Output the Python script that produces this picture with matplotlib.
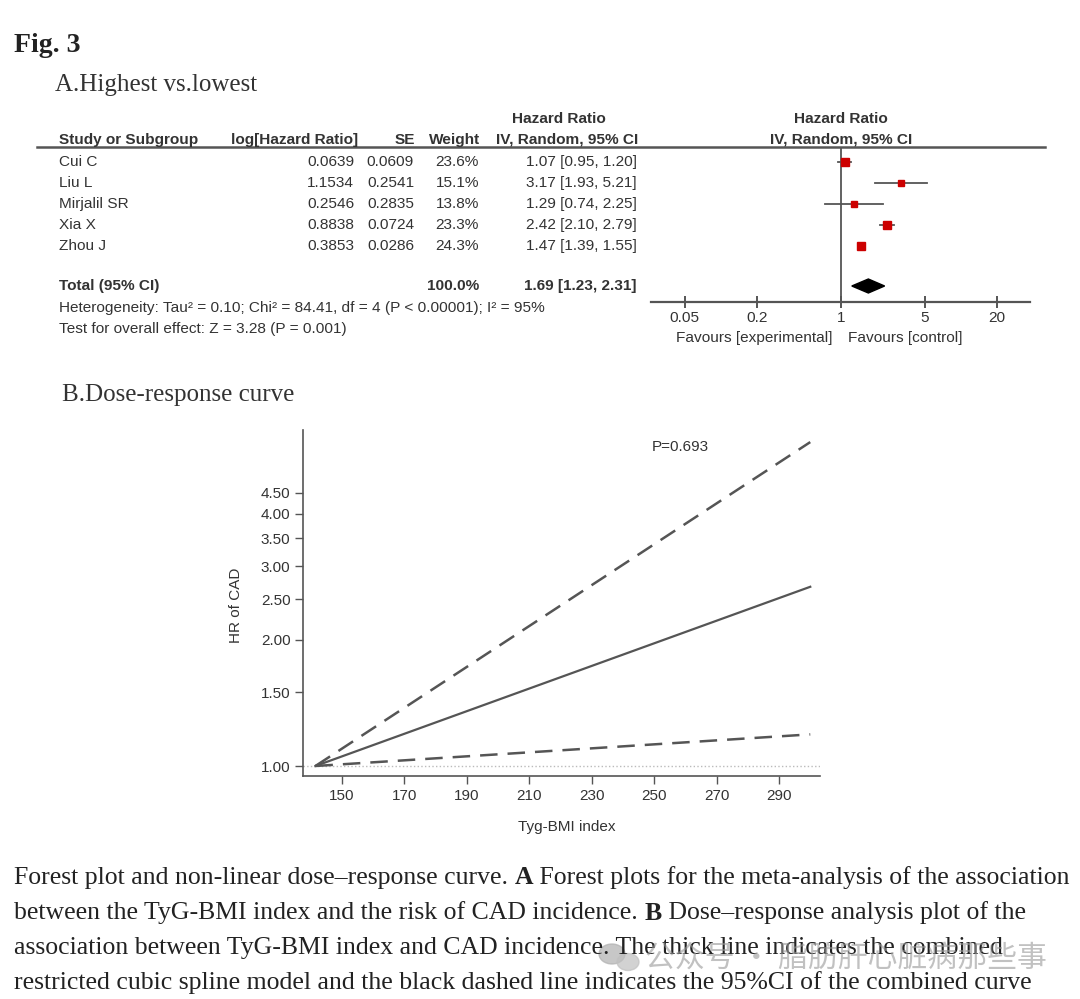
import numpy as np
import matplotlib
matplotlib.use('Agg')
import matplotlib.pyplot as plt
from matplotlib.patches import Polygon, Ellipse

# Forest plot data (panel A)
studies = ['Cui C', 'Liu L', 'Mirjalil SR', 'Xia X', 'Zhou J']
log_hr = ['0.0639', '1.1534', '0.2546', '0.8838', '0.3853']
se = ['0.0609', '0.2541', '0.2835', '0.0724', '0.0286']
weights = [23.6, 15.1, 13.8, 23.3, 24.3]
hr = [1.07, 3.17, 1.29, 2.42, 1.47]
ci_low = [0.95, 1.93, 0.74, 2.10, 1.39]
ci_high = [1.20, 5.21, 2.25, 2.79, 1.55]
total_hr, total_low, total_high = 1.69, 1.23, 2.31
total_weight = '100.0%'
forest_ticks = [0.05, 0.2, 1, 5, 20]
forest_ticklabels = ['0.05', '0.2', '1', '5', '20']

# Dose-response data (panel B)
tyg_bmi = [141.5, 300]
hr_curve = [1.0, 2.68]
hr_upper = [1.0, 5.94]
hr_lower = [1.0, 1.19]
dr_xticks = [150, 170, 190, 210, 230, 250, 270, 290]
dr_yticks = [1.0, 1.5, 2.0, 2.5, 3.0, 3.5, 4.0, 4.5]

W, H = 1080, 999
fig = plt.figure(figsize=(W / 100, H / 100), dpi=100)
fig.patch.set_facecolor('white')


def fx(px):
    return px / W


def fy(py):
    return 1 - py / H


sans = 'Liberation Sans'
serif = 'Liberation Serif'
tc = '#333333'


def ftext(px, py, s, **kw):
    kw.setdefault('family', sans)
    kw.setdefault('color', tc)
    kw.setdefault('va', 'center')
    return fig.text(fx(px), fy(py), s, **kw)


# Titles
ftext(14, 45, 'Fig. 3', family=serif, fontsize=20, weight='bold', color='#222222')
ftext(55, 85, 'A.Highest vs.lowest', family=serif, fontsize=18, color='#333333')
ftext(62, 395, 'B.Dose-response curve', family=serif, fontsize=18, color='#333333')

# ---- Panel A table ----
fs = 11.1
ftext(559, 119, 'Hazard Ratio', fontsize=fs, weight='bold', ha='center')
ftext(841, 119, 'Hazard Ratio', fontsize=fs, weight='bold', ha='center')
ftext(59, 140, 'Study or Subgroup', fontsize=fs, weight='bold')
ftext(358, 140, 'log[Hazard Ratio]', fontsize=fs, weight='bold', ha='right')
ftext(415, 140, 'SE', fontsize=fs, weight='bold', ha='right')
ftext(480, 140, 'Weight', fontsize=fs, weight='bold', ha='right')
ftext(567, 140, 'IV, Random, 95% CI', fontsize=fs, weight='bold', ha='center')
ftext(841, 140, 'IV, Random, 95% CI', fontsize=fs, weight='bold', ha='center')
fig.add_artist(plt.Line2D([fx(37), fx(1045)], [fy(147), fy(147)], color='#555555', lw=1.8))

row_y = [162, 183, 204, 225, 246]
for i, name in enumerate(studies):
    ftext(59, row_y[i], name, fontsize=fs)
    ftext(354, row_y[i], log_hr[i], fontsize=fs, ha='right')
    ftext(414, row_y[i], se[i], fontsize=fs, ha='right')
    ftext(479, row_y[i], f'{weights[i]:.1f}%', fontsize=fs, ha='right')
    ftext(637, row_y[i], f'{hr[i]:.2f} [{ci_low[i]:.2f}, {ci_high[i]:.2f}]', fontsize=fs, ha='right')

ftext(59, 286, 'Total (95% CI)', fontsize=fs, weight='bold')
ftext(479, 286, total_weight, fontsize=fs, weight='bold', ha='right')
ftext(637, 286, f'{total_hr:.2f} [{total_low:.2f}, {total_high:.2f}]', fontsize=fs, weight='bold', ha='right')
ftext(59, 308, 'Heterogeneity: Tau\u00b2 = 0.10; Chi\u00b2 = 84.41, df = 4 (P < 0.00001); I\u00b2 = 95%', fontsize=fs)
ftext(59, 329, 'Test for overall effect: Z = 3.28 (P = 0.001)', fontsize=fs)

# Forest graphic
ax1 = fig.add_axes([fx(651), fy(302), fx(1030) - fx(651), fy(147) - fy(302)])
ax1.set_xscale('log')
ax1.set_xlim(10 ** ((651 - 841) / 120), 10 ** ((1030 - 841) / 120))
ax1.set_ylim((302 - 162) / 21, (147 - 162) / 21)
for s in ['top', 'right', 'left']:
    ax1.spines[s].set_visible(False)
ax1.spines['bottom'].set_color('#555555')
ax1.spines['bottom'].set_linewidth(1.6)
ax1.set_yticks([])
ax1.set_xticks(forest_ticks)
ax1.set_xticklabels(forest_ticklabels)
ax1.xaxis.set_minor_locator(matplotlib.ticker.NullLocator())
ax1.tick_params(axis='x', direction='inout', length=9, width=1.4, color='#555555',
                labelsize=fs, labelcolor=tc, pad=2)
for lab in ax1.get_xticklabels():
    lab.set_family(sans)
ax1.axvline(1, color='#555555', lw=1.3)
for i in range(len(studies)):
    ax1.plot([ci_low[i], ci_high[i]], [i, i], color='#555555', lw=1.3)
    ax1.plot(hr[i], i, 's', color='#cc0000', mec='#cc0000',
             markersize=5.9 * np.sqrt(weights[i] / 24.3))
ty = (286 - 162) / 21
dh = 7 / 21
ax1.add_patch(Polygon([[total_low, ty], [total_hr, ty - dh], [total_high, ty], [total_hr, ty + dh]],
                      closed=True, color='black'))
ftext(832, 338, 'Favours [experimental]', fontsize=fs, ha='right')
ftext(848, 338, 'Favours [control]', fontsize=fs, ha='left')

# ---- Panel B dose-response ----
ax2 = fig.add_axes([fx(303), fy(776), fx(820) - fx(303), fy(430) - fy(776)])
ax2.set_yscale('log')
ax2.set_xlim(150 - (342 - 303) / 3.125, 290 + (820 - 779) / 3.125)
ax2.set_ylim(np.exp(-(776 - 766) / 181.8), np.exp((766 - 430) / 181.8))
ax2.axhline(1.0, color='#bbbbbb', lw=1.0, ls=':')
ax2.plot(tyg_bmi, hr_upper, color='#555555', lw=1.8, ls=(0, (7, 4)))
ax2.plot(tyg_bmi, hr_lower, color='#555555', lw=1.8, ls=(0, (7, 4)))
ax2.plot(tyg_bmi, hr_curve, color='#555555', lw=1.6)
for s in ['top', 'right']:
    ax2.spines[s].set_visible(False)
for s in ['left', 'bottom']:
    ax2.spines[s].set_color('#555555')
    ax2.spines[s].set_linewidth(1.2)
ax2.set_xticks(dr_xticks)
ax2.set_yticks(dr_yticks)
ax2.set_yticklabels([f'{v:.2f}' for v in dr_yticks])
ax2.yaxis.set_minor_locator(matplotlib.ticker.NullLocator())
ax2.yaxis.set_minor_formatter(matplotlib.ticker.NullFormatter())
ax2.tick_params(direction='out', length=6, width=1.0, color='#555555',
                labelsize=11, labelcolor=tc, pad=3)
for lab in ax2.get_xticklabels() + ax2.get_yticklabels():
    lab.set_family(sans)
ftext(652, 447, 'P=0.693', fontsize=11)
ftext(236, 605, 'HR of CAD', fontsize=11, rotation=90, ha='center')
ftext(567, 827, 'Tyg-BMI index', fontsize=11, ha='center')

# ---- Caption ----
renderer = fig.canvas.get_renderer()
cap_fs = 18.5


def runs(px, py, parts):
    x = px
    for s, w in parts:
        t = fig.text(fx(x), fy(py), s, family=serif, fontsize=cap_fs, weight=w,
                     color='#222222', va='center')
        x += t.get_window_extent(renderer).width


runs(14, 878, [('Forest plot and non-linear dose\u2013response curve. ', 'normal'), ('A', 'bold'),
               (' Forest plots for the meta-analysis of the association', 'normal')])
runs(14, 913, [('between the TyG-BMI index and the risk of CAD incidence. ', 'normal'), ('B', 'bold'),
               (' Dose\u2013response analysis plot of the', 'normal')])
runs(14, 948, [('association between TyG-BMI index and CAD incidence. The thick line indicates the combined',
                'normal')])
runs(14, 983, [('restricted cubic spline model and the black dashed line indicates the 95%CI of the combined curve',
                'normal')])

# watermark
fig.add_artist(Ellipse((fx(612), fy(954)), fx(26), 20 / H, color='#b0b0b0', alpha=0.7))
fig.add_artist(Ellipse((fx(628), fy(962)), fx(22), 17 / H, color='#c0c0c0', alpha=0.7))
fig.text(fx(645), fy(958), '公众号 · 脂肪肝心脏病那些事', family=['Noto Sans CJK SC', 'DejaVu Sans'],
         fontsize=21.5, color='#999999', alpha=0.6, va='center')

fig.savefig('out.png', dpi=100, facecolor='white')
